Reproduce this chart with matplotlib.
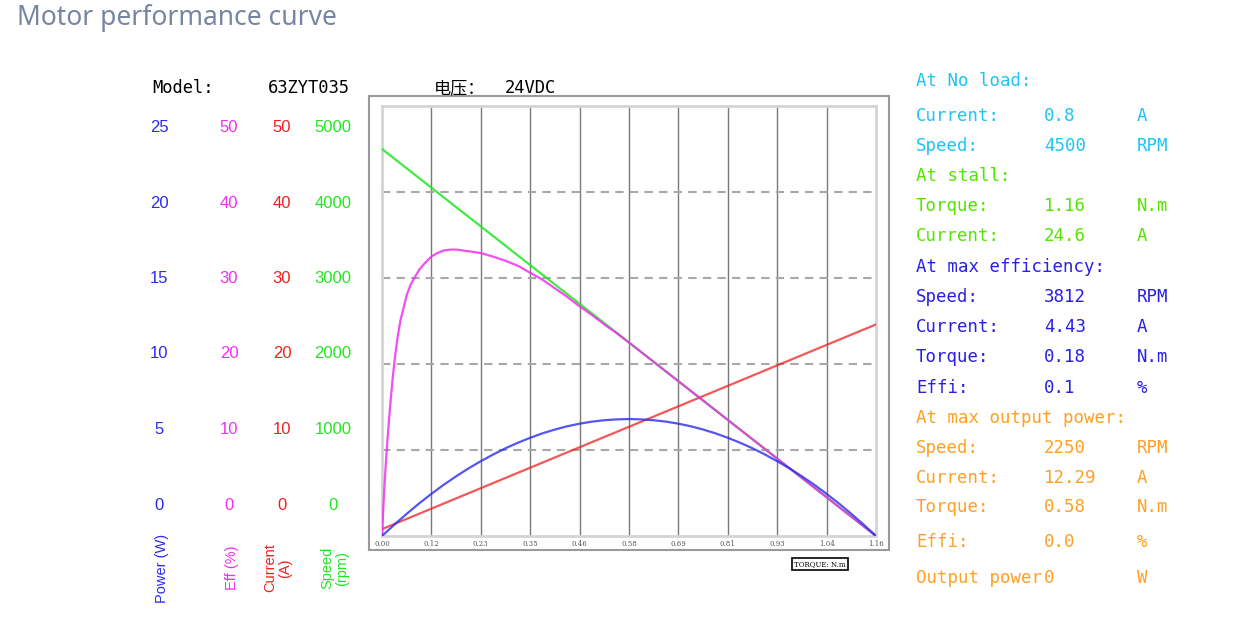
import matplotlib
matplotlib.use('Agg')
import matplotlib.pyplot as plt
from matplotlib.patches import Rectangle

# ----- Data -----
torque_ticks = [0.0, 0.116, 0.232, 0.348, 0.464, 0.58, 0.696, 0.812, 0.928, 1.044, 1.16]
torque_labels = ['0.00', '0.12', '0.23', '0.35', '0.46', '0.58', '0.69', '0.81', '0.93', '1.04', '1.16']

speed_t = [0.0, 0.116, 0.232, 0.348, 0.464, 0.58, 0.696, 0.812, 0.928, 1.044, 1.16]
speed_rpm = [4500, 4050, 3600, 3150, 2700, 2250, 1800, 1350, 900, 450, 0]

current_t = [0.0, 0.116, 0.232, 0.348, 0.464, 0.58, 0.696, 0.812, 0.928, 1.044, 1.16]
current_a = [0.8, 3.18, 5.56, 7.94, 10.32, 12.7, 15.08, 17.46, 19.84, 22.22, 24.6]

power_t = [0.0, 0.029, 0.058, 0.087, 0.116, 0.145, 0.174, 0.203, 0.232, 0.261, 0.29,
           0.319, 0.348, 0.377, 0.406, 0.435, 0.464, 0.493, 0.522, 0.551, 0.58,
           0.609, 0.638, 0.667, 0.696, 0.725, 0.754, 0.783, 0.812, 0.841, 0.87,
           0.899, 0.928, 0.957, 0.986, 1.015, 1.044, 1.073, 1.102, 1.131, 1.16]
power_w = [0.0, 0.66, 1.29, 1.89, 2.45, 2.98, 3.47, 3.93, 4.35, 4.74, 5.10,
           5.42, 5.71, 5.97, 6.19, 6.38, 6.53, 6.65, 6.73, 6.78, 6.80,
           6.78, 6.73, 6.65, 6.53, 6.38, 6.19, 5.97, 5.71, 5.42, 5.10,
           4.74, 4.35, 3.93, 3.47, 2.98, 2.45, 1.89, 1.29, 0.66, 0.0]

eff_t = [0.0, 0.003, 0.006, 0.009, 0.012, 0.016, 0.02, 0.025, 0.03, 0.036, 0.043, 0.05,
         0.058, 0.067, 0.077, 0.088, 0.1, 0.116, 0.13, 0.145, 0.16, 0.175, 0.19, 0.205,
         0.232, 0.26, 0.29, 0.32, 0.348, 0.377, 0.406, 0.435, 0.464, 0.493, 0.522, 0.551,
         0.58, 0.638, 0.696, 0.754, 0.812, 0.87, 0.928, 0.986, 1.044, 1.102, 1.16]
eff_pct = [0.0, 3.2, 6.0, 8.4, 10.6, 13.2, 15.6, 18.3, 20.6, 22.9, 25.0, 26.4,
           28.0, 29.2, 30.1, 31.0, 31.7, 32.5, 32.9, 33.2, 33.3, 33.3, 33.2, 33.1,
           32.9, 32.5, 32.0, 31.4, 30.6, 29.8, 28.8, 27.8, 26.7, 25.7, 24.6, 23.6,
           22.5, 20.25, 18.0, 15.75, 13.5, 11.25, 9.0, 6.75, 4.5, 2.25, 0.0]

power_scale = ['25', '20', '15', '10', '5', '0']
eff_scale = ['50', '40', '30', '20', '10', '0']
current_scale = ['50', '40', '30', '20', '10', '0']
speed_scale = ['5000', '4000', '3000', '2000', '1000', '0']

info_labels = ['At No load:', 'Current:', 'Speed:', 'At stall:', 'Torque:', 'Current:',
               'At max efficiency:', 'Speed:', 'Current:', 'Torque:', 'Effi:',
               'At max output power:', 'Speed:', 'Current:', 'Torque:', 'Effi:', 'Output power']
info_values = ['', '0.8', '4500', '', '1.16', '24.6',
               '', '3812', '4.43', '0.18', '0.1',
               '', '2250', '12.29', '0.58', '0.0', '0']
info_units = ['', 'A', 'RPM', '', 'N.m', 'A',
              '', 'RPM', 'A', 'N.m', '%',
              '', 'RPM', 'A', 'N.m', '%', 'W']

# ----- Styles -----
W, H = 1237, 629
C_POW = '#2b2bf0'
C_EFF = '#f030f0'
C_CUR = '#f02020'
C_SPD = '#22e622'
MONO = ['DejaVu Sans Mono', 'Noto Sans CJK SC']
info_colors = ['#1ec4f2'] * 3 + ['#55e400'] * 3 + ['#2a1ee8'] * 5 + ['#ffa024'] * 6
info_y = [81, 116, 146, 176, 206, 236, 267, 297, 327, 357, 388, 418, 448, 478, 507, 542, 578]


def fx(px):
    return px / W


def fy(py):
    return 1 - py / H


fig = plt.figure(figsize=(W / 100, H / 100), dpi=100)

# outer frame of the chart
fig.patches.append(Rectangle((fx(369), fy(550)), fx(889) - fx(369), fy(96) - fy(550),
                             transform=fig.transFigure, fill=False,
                             edgecolor='#9a9a9a', linewidth=1.5))

ax = fig.add_axes([fx(382), fy(536), fx(876) - fx(382), fy(106) - fy(536)])
ax.set_xlim(0, 1.16)
ax.set_ylim(0, 5000)
for s in ax.spines.values():
    s.set_color('#d4d4d4')
    s.set_linewidth(2)
ax.set_xticks(torque_ticks)
ax.set_xticklabels(torque_labels, fontsize=5, family='DejaVu Serif', color='#555555')
ax.tick_params(axis='x', length=0, pad=3)
ax.set_yticks([])
for t in torque_ticks[1:-1]:
    ax.axvline(t, color='#7a7a7a', lw=1, zorder=1)
for v in [1000, 2000, 3000, 4000]:
    ax.axhline(v, color='#a8a8a8', lw=1.5, ls=(0, (4, 3)), zorder=1)

ax_cur = ax.twinx()
ax_eff = ax.twinx()
ax_pow = ax.twinx()
for a, lim in [(ax_cur, 50), (ax_eff, 50), (ax_pow, 25)]:
    a.set_ylim(0, lim)
    a.set_yticks([])
    for s in a.spines.values():
        s.set_visible(False)

ax.plot(speed_t, speed_rpm, color=C_SPD, lw=1.6, alpha=0.85, zorder=3)
ax_cur.plot(current_t, current_a, color=C_CUR, lw=1.6, alpha=0.75)
ax_eff.plot(eff_t, eff_pct, color=C_EFF, lw=1.6, alpha=0.85)
ax_pow.plot(power_t, power_w, color=C_POW, lw=1.6, alpha=0.8)

# title
fig.text(fx(17), fy(18), 'Motor performance curve', fontsize=19, family='Noto Sans',
         color='#7785a2', va='center', ha='left')

# header
fig.text(fx(152), fy(88), 'Model:', fontsize=12.3, family=MONO, color='black', va='center')
fig.text(fx(268), fy(88), '63ZYT035', fontsize=12.3, family=MONO, color='black', va='center')
fig.text(fx(434), fy(88), '电压：', fontsize=12.3, family=['Noto Sans CJK SC'], color='black',
         va='center')
fig.text(fx(505), fy(88), '24VDC', fontsize=12.3, family=MONO, color='black', va='center')

# left scale columns
scale_y = [128, 203, 279, 354, 430, 505]
for labels, x, c in [(power_scale, 159, C_POW), (eff_scale, 229, C_EFF),
                     (current_scale, 282, C_CUR), (speed_scale, 333, C_SPD)]:
    for lab, y in zip(labels, scale_y):
        fig.text(fx(x), fy(y), lab, fontsize=12, family='Liberation Sans', color=c,
                 ha='center', va='center')

# rotated unit labels
for txt, x, c in [('Power (W)', 162, C_POW), ('Eff (%)', 232, C_EFF),
                  ('Current\n(A)', 278, C_CUR), ('Speed\n(rpm)', 335, C_SPD)]:
    fig.text(fx(x), fy(568), txt, fontsize=10.5, family='Liberation Sans', color=c,
             rotation=90, ha='center', va='center', multialignment='center',
             linespacing=1.1)

# torque unit box
fig.text(fx(794), fy(564), 'TORQUE: N.m', fontsize=5, family='DejaVu Serif', color='black',
         va='center', ha='left',
         bbox=dict(boxstyle='square,pad=0.35', facecolor='white', edgecolor='black', lw=1.2))

# right info panel
for lab, val, unit, c, y in zip(info_labels, info_values, info_units, info_colors, info_y):
    fig.text(fx(916), fy(y), lab, fontsize=12.5, family=MONO, color=c, va='center')
    if val:
        fig.text(fx(1044), fy(y), val, fontsize=12.5, family=MONO, color=c, va='center')
    if unit:
        fig.text(fx(1137), fy(y), unit, fontsize=12.5, family=MONO, color=c, va='center')

fig.savefig('out.png', dpi=100)
